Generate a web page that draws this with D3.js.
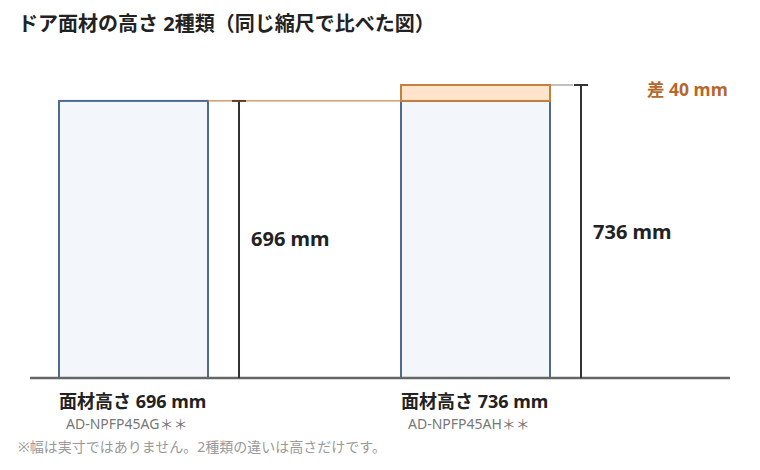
<!DOCTYPE html>
<html><head><meta charset="utf-8">
<script src="https://cdn.jsdelivr.net/npm/d3@7"></script>
<style>body{margin:0;background:#fff}svg{display:block;font-family:"Noto Sans","Noto Sans CJK JP",sans-serif}</style>
</head><body>
<svg id="c" width="760" height="470"></svg>
<script>
const title = "ドア面材の高さ 2種類（同じ縮尺で比べた図）";
const models = ["AD-NPFP45AG＊＊", "AD-NPFP45AH＊＊"];
const heights = [696, 736];
const captions = ["面材高さ 696 mm", "面材高さ 736 mm"];
const diffLabel = "差 40 mm";
const footnote = "※幅は実寸ではありません。2種類の違いは高さだけです。";

const svg = d3.select("#c");
const x = d3.scaleBand().domain(models).range([59, 550]).paddingInner(0.5643).paddingOuter(0);
const y = d3.scaleLinear().domain([0, d3.max(heights)]).range([378, 85]);
const base = heights[0];

svg.append("text").attr("x", 18).attr("y", 31).attr("font-size", 20).attr("font-weight", "bold")
  .attr("fill", "#222").text(title);

// main panels (common base height)
svg.selectAll("rect.panel").data(models).enter().append("rect")
  .attr("x", d => x(d)).attr("width", x.bandwidth())
  .attr("y", y(base)).attr("height", y(0) - y(base))
  .attr("fill", "#f3f7fb").attr("stroke", "#4b6b90").attr("stroke-width", 2);

// extra portion
svg.append("rect").attr("x", x(models[1])).attr("width", x.bandwidth())
  .attr("y", y(heights[1])).attr("height", y(base) - y(heights[1]))
  .attr("fill", "#fde4ca").attr("stroke", "#c4803f").attr("stroke-width", 2);

// reference line at base height
svg.append("line").attr("x1", x(models[0]) + x.bandwidth()).attr("x2", x(models[1]))
  .attr("y1", y(base)).attr("y2", y(base)).attr("stroke", "#c58a50").attr("stroke-width", 1.2);

// baseline
svg.append("line").attr("x1", 30).attr("x2", 730).attr("y1", y(0)).attr("y2", y(0))
  .attr("stroke", "#666").attr("stroke-width", 2.5);

// dimension lines
models.forEach((m, i) => {
  const dx = x(m) + x.bandwidth() + 31;
  if (i === 1) {
    svg.append("line").attr("x1", x(m) + x.bandwidth() + 1).attr("x2", dx - 8)
      .attr("y1", y(heights[i])).attr("y2", y(heights[i])).attr("stroke", "#aaa").attr("stroke-width", 1.5);
  }
  svg.append("line").attr("x1", dx).attr("x2", dx).attr("y1", y(heights[i])).attr("y2", y(0))
    .attr("stroke", "#333").attr("stroke-width", 2);
  svg.append("line").attr("x1", dx - 7).attr("x2", dx + 7).attr("y1", y(heights[i])).attr("y2", y(heights[i]))
    .attr("stroke", i === 0 ? "#5a4030" : "#333").attr("stroke-width", 2);
  svg.append("text").attr("x", dx + 12).attr("y", (y(heights[i]) + y(0)) / 2 + 7)
    .attr("font-size", 20).attr("font-weight", "bold").attr("fill", "#222")
    .text(heights[i] + " mm");
  svg.append("text").attr("x", x(m)).attr("y", 408).attr("font-size", 18).attr("font-weight", "bold")
    .attr("fill", "#222").text(captions[i]);
  svg.append("text").attr("x", x(m) + 7).attr("y", 429).attr("font-size", 14)
    .attr("fill", "#777").text(m);
});

svg.append("text").attr("x", 647).attr("y", 96).attr("font-size", 17.5).attr("font-weight", "bold")
  .attr("fill", "#b5672c").text(diffLabel);

svg.append("text").attr("x", 18).attr("y", 452).attr("font-size", 14).attr("fill", "#999").text(footnote);
</script>
</body></html>
